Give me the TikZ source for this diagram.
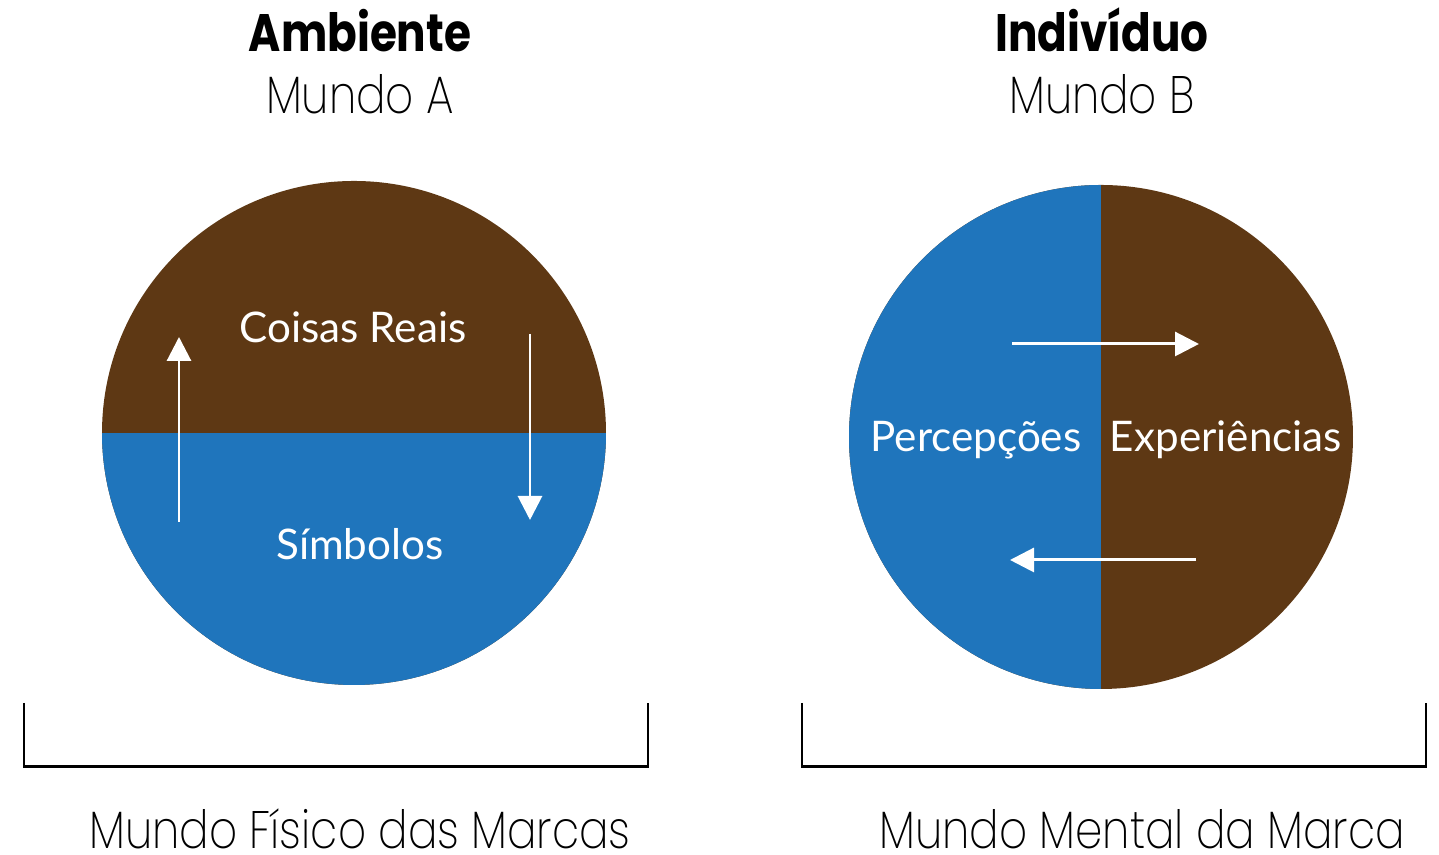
\documentclass[tikz,border=0pt]{standalone}
\usepackage{fontspec}
\setmainfont{Lato}
\newfontfamily\headfont{Poppins}[FakeStretch=0.83]
\newfontfamily\thinfont{Poppins ExtraLight}[FakeStretch=0.83]
\usetikzlibrary{arrows.meta}
\definecolor{earth}{RGB}{94,56,20}
\definecolor{sky}{RGB}{31,117,188}
\tikzset{
    world/.style={circle, inner sep=0mm, minimum size=5.04cm, fill=earth},
    flow/.style={white, line width=0.85pt, -{Triangle[length=0.24cm, width=0.24cm]}},
    inlabel/.style={white, font=\fontsize{12}{14}\selectfont, anchor=base},
    headlabel/.style={font=\headfont\bfseries\fontsize{15}{18}\selectfont, anchor=base, inner sep=0pt},
    subheadlabel/.style={font=\thinfont\fontsize{15}{18}\selectfont, anchor=base, inner sep=0pt},
    bracket/.style={black, line width=0.85pt}
}

\begin{document}
\begin{tikzpicture}
        \useasboundingbox (0,0) rectangle (14.39,8.55);
        % Mundo A
        \node (wa) [world, path picture={\fill[sky] (path picture bounding box.west) rectangle (path picture bounding box.south east);}] at (3.54,4.22) {};
        \node (ta) [headlabel] at (3.60,8.03) {Ambiente};
        \node (sa) [subheadlabel] at (3.60,7.41) {Mundo A};
        \node (ca) [inlabel] at (3.53,5.12) {Coisas Reais};
        \node (sb) [inlabel] at (3.60,2.95) {Símbolos};
        \coordinate (up0) at (1.79,3.33);
        \coordinate (up1) at (1.79,5.18);
        \coordinate (dn0) at (5.30,5.21);
        \coordinate (dn1) at (5.30,3.35);
        \draw[flow] (up0) -- (up1);
        \draw[flow] (dn0) -- (dn1);
        % Mundo B
        \node (wb) [world, path picture={\fill[sky] (path picture bounding box.south west) rectangle (path picture bounding box.north);}] at (11.01,4.18) {};
        \node (tb) [headlabel] at (11.02,8.03) {Indivíduo};
        \node (sbb) [subheadlabel] at (11.02,7.41) {Mundo B};
        \node (pe) [inlabel] at (9.76,4.03) {Percepções};
        \node (ex) [inlabel] at (12.26,4.03) {Experiências};
        \coordinate (rt0) at (10.12,5.11);
        \coordinate (rt1) at (11.99,5.11);
        \coordinate (lt0) at (11.96,2.95);
        \coordinate (lt1) at (10.10,2.95);
        \draw[flow] (rt0) -- (rt1);
        \draw[flow] (lt0) -- (lt1);
        % colchetes
        \coordinate (la) at (0.24,1.52);
        \coordinate (lb) at (6.48,1.52);
        \coordinate (ra) at (8.02,1.52);
        \coordinate (rb) at (14.26,1.52);
        \draw[bracket] (la) -- (la |- 0,0.88) -- (lb |- 0,0.88) -- (lb);
        \draw[bracket] (ra) -- (ra |- 0,0.88) -- (rb |- 0,0.88) -- (rb);
        \node (fa) [subheadlabel] at (3.60,0.06) {Mundo Físico das Marcas};
        \node (fb) [subheadlabel] at (11.42,0.06) {Mundo Mental da Marca};
\end{tikzpicture}
\end{document}
